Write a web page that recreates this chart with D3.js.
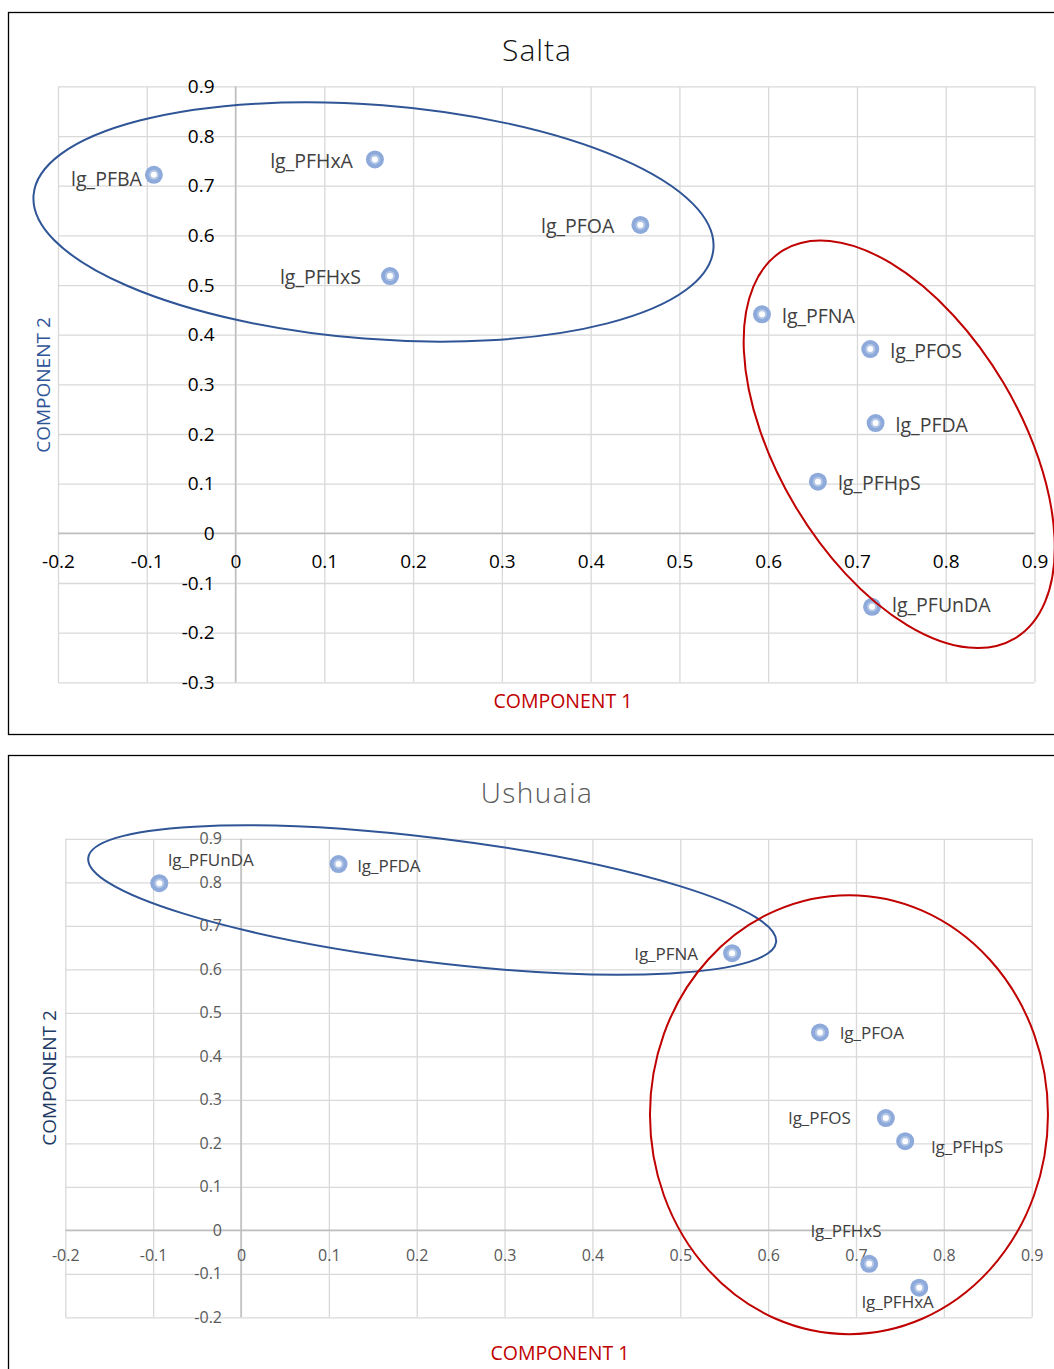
<!DOCTYPE html>
<html>
<head>
<meta charset="utf-8">
<script src="https://cdn.jsdelivr.net/npm/d3@7"></script>
<style>
  body { margin: 0; background: #fff; }
  svg { display: block; font-family: "Open Sans", "Noto Sans", sans-serif; }
</style>
</head>
<body>
<svg id="chart" width="1054" height="1369"></svg>
<script>
"use strict";

// shared axis ticks
var xTicks = [-0.2, -0.1, 0, 0.1, 0.2, 0.3, 0.4, 0.5, 0.6, 0.7, 0.8, 0.9];
var saltaYTicks = [-0.3, -0.2, -0.1, 0, 0.1, 0.2, 0.3, 0.4, 0.5, 0.6, 0.7, 0.8, 0.9];
var ushuaiaYTicks = [-0.2, -0.1, 0, 0.1, 0.2, 0.3, 0.4, 0.5, 0.6, 0.7, 0.8, 0.9];

// Salta loadings
var saltaNames = ['lg_PFBA', 'lg_PFHxA', 'lg_PFOA', 'lg_PFHxS', 'lg_PFNA', 'lg_PFOS', 'lg_PFDA', 'lg_PFHpS', 'lg_PFUnDA'];
var saltaComp1 = [-0.092, 0.157, 0.456, 0.174, 0.593, 0.715, 0.721, 0.656, 0.717];
var saltaComp2 = [0.722, 0.753, 0.621, 0.518, 0.441, 0.371, 0.222, 0.104, -0.148];

// Ushuaia loadings
var ushuaiaNames = ['lg_PFUnDA', 'lg_PFDA', 'lg_PFNA', 'lg_PFOA', 'lg_PFOS', 'lg_PFHpS', 'lg_PFHxS', 'lg_PFHxA'];
var ushuaiaComp1 = [-0.093, 0.111, 0.559, 0.659, 0.734, 0.756, 0.715, 0.772];
var ushuaiaComp2 = [0.798, 0.842, 0.637, 0.455, 0.258, 0.205, -0.077, -0.132];

var svg = d3.select('#chart');
var fmt = d => String(+d.toFixed(1));

function drawPanel(p) {
    var g = svg.append('g');

    // frame
    g.append('rect')
        .attr('x', p.frame[0]).attr('y', p.frame[1])
        .attr('width', p.frame[2]).attr('height', p.frame[3])
        .attr('fill', '#fff').attr('stroke', '#000').attr('stroke-width', 1.3);

    var x = d3.scaleLinear().domain([-0.2, 0.9]).range(p.xRange);
    var y = d3.scaleLinear().domain(d3.extent(p.yTicks)).range(p.yRange);
    var top = p.yRange[1], bottom = p.yRange[0];
    var left = p.xRange[0], right = p.xRange[1];

    // gridlines
    var grid = g.append('g');
    grid.append('g')
        .attr('transform', `translate(0,${bottom})`)
        .call(d3.axisBottom(x).tickValues(xTicks).tickSize(-(bottom - top)).tickFormat(''));
    grid.append('g')
        .attr('transform', `translate(${left},0)`)
        .call(d3.axisLeft(y).tickValues(p.yTicks).tickSize(-(right - left)).tickFormat(''));
    grid.selectAll('.domain').remove();
    grid.selectAll('line').attr('stroke', '#d9d9d9').attr('stroke-width', 1.3);

    // zero axes
    g.append('line')
        .attr('x1', x(0)).attr('x2', x(0)).attr('y1', top).attr('y2', bottom)
        .attr('stroke', '#bfbfbf').attr('stroke-width', 1.5);
    g.append('line')
        .attr('x1', left).attr('x2', right).attr('y1', y(0)).attr('y2', y(0))
        .attr('stroke', '#bfbfbf').attr('stroke-width', 1.5);

    // tick labels along the zero lines
    var xa = g.append('g')
        .attr('transform', `translate(0,${y(0)})`)
        .call(d3.axisBottom(x).tickValues(xTicks).tickSize(0).tickPadding(p.xPad).tickFormat(fmt));
    var ya = g.append('g')
        .attr('transform', `translate(${x(0)},0)`)
        .call(d3.axisLeft(y).tickValues(p.yTicks).tickSize(0).tickPadding(p.yPad).tickFormat(fmt));
    [xa, ya].forEach(a => {
        a.select('.domain').remove();
        a.selectAll('text')
            .attr('fill', p.tickColor)
            .style('font-size', p.tickSize + 'px')
            .style('font-family', '"Open Sans", sans-serif');
    });
    xa.selectAll('text').attr('dy', null).attr('dominant-baseline', 'central');

    // title
    g.append('text')
        .attr('x', p.titleX).attr('y', p.titleY)
        .attr('text-anchor', 'middle').attr('dominant-baseline', 'central')
        .attr('fill', p.titleColor)
        .style('font-size', p.titleSize + 'px').style('font-weight', 300)
        .style('letter-spacing', p.titleSpacing + 'px')
        .text(p.title);

    // axis titles
    g.append('text')
        .attr('x', p.xTitle[0]).attr('y', p.xTitle[1])
        .attr('text-anchor', 'middle').attr('dominant-baseline', 'central')
        .attr('fill', '#c00000').style('font-size', '19.5px')
        .text('COMPONENT 1');
    g.append('text')
        .attr('transform', `translate(${p.yTitle[0]},${p.yTitle[1]}) rotate(-90)`)
        .attr('text-anchor', 'middle').attr('dominant-baseline', 'central')
        .attr('fill', p.yTitleColor).style('font-size', '19px')
        .text('COMPONENT 2');

    // points
    var pts = p.names.map((n, i) => ({ name: n, c1: p.c1[i], c2: p.c2[i], lab: p.labels[i] }));
    var pt = g.selectAll('.pt').data(pts).enter().append('g')
        .attr('class', 'pt')
        .attr('transform', d => `translate(${x(d.c1)},${y(d.c2)})`);
    pt.append('circle').attr('r', 9).attr('fill', '#8eaadb');
    pt.append('circle').attr('r', 5).attr('fill', '#b4c7e7');
    pt.append('circle').attr('r', 3).attr('fill', '#fff');

    pt.append('text')
        .attr('x', d => d.lab[0]).attr('y', d => d.lab[1])
        .attr('text-anchor', d => d.lab[2])
        .attr('dominant-baseline', 'central')
        .attr('fill', '#404040')
        .style('font-size', p.labelSize + 'px')
        .text(d => d.name);

    // cluster ellipses
    g.selectAll('.ring').data(p.rings).enter().append('ellipse')
        .attr('class', 'ring')
        .attr('transform', d => `translate(${x(d.cx)},${y(d.cy)}) rotate(${d.rot})`)
        .attr('rx', d => d.rx).attr('ry', d => d.ry)
        .attr('fill', 'none')
        .attr('stroke', d => d.color)
        .attr('stroke-width', 2);
}

drawPanel({
    frame: [8.5, 12.5, 1070, 722],
    xRange: [58, 1034.5],
    yRange: [682.3, 86.4],
    yTicks: saltaYTicks,
    xPad: 28, yPad: 21,
    tickColor: '#000', tickSize: 19,
    title: 'Salta', titleX: 537, titleY: 49, titleSize: 30, titleColor: '#111', titleSpacing: 1,
    xTitle: [563, 700], yTitle: [43, 385], yTitleColor: '#2f5597',
    labelSize: 19.5,
    names: saltaNames, c1: saltaComp1, c2: saltaComp2,
    labels: [
        [-12, 4, 'end'], [-22, 1, 'end'], [-26, 1, 'end'], [-29, 0, 'end'],
        [20, 1, 'start'], [20, 1, 'start'], [20, 1, 'start'], [20, 1, 'start'], [20, -2, 'start']
    ],
    rings: [
        { cx: 0.1554, cy: 0.627, rx: 341, ry: 117, rot: 4.5, color: '#2f5597' },
        { cx: 0.7476, cy: 0.1793, rx: 226, ry: 121, rot: 59.2, color: '#c00000' }
    ]
});

drawPanel({
    frame: [8.5, 755.5, 1070, 640],
    xRange: [65.3, 1031.7],
    yRange: [1317.3, 838.8],
    yTicks: ushuaiaYTicks,
    xPad: 25, yPad: 19,
    tickColor: '#595959', tickSize: 16,
    title: 'Ushuaia', titleX: 537, titleY: 792, titleSize: 28, titleColor: '#595959', titleSpacing: 1.5,
    xTitle: [560, 1352], yTitle: [49, 1078], yTitleColor: '#203864',
    labelSize: 17,
    names: ushuaiaNames, c1: ushuaiaComp1, c2: ushuaiaComp2,
    labels: [
        [8.6, -24, 'start'], [19, 1, 'start'], [-34, 0, 'end'], [20, 0, 'start'],
        [-35, -1, 'end'], [26, 5, 'start'], [-23, -33, 'middle'], [-21.5, 14, 'middle']
    ],
    rings: [
        { cx: 0.2176, cy: 0.7593, rx: 346.5, ry: 62, rot: 7, color: '#2f5597' },
        { cx: 0.692, cy: 0.2658, rx: 199, ry: 219.5, rot: 0, color: '#c00000' }
    ]
});
</script>
</body>
</html>
